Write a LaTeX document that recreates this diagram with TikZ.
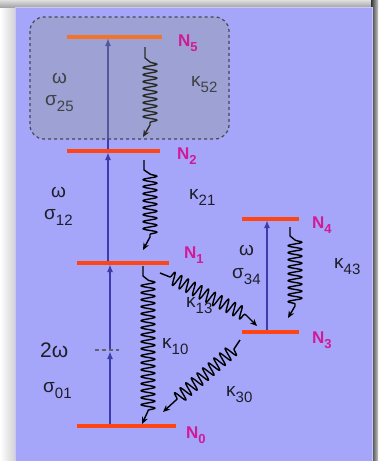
\documentclass[tikz,border=0pt]{standalone}
\usepackage{fontspec}
\setmainfont{Liberation Sans}
\usetikzlibrary{decorations.pathmorphing,arrows.meta}
\definecolor{panel}{RGB}{165,166,250}
\definecolor{panelborder}{RGB}{200,200,255}
\definecolor{levelc}{RGB}{255,69,20}
\definecolor{levelorange}{RGB}{245,115,40}
\definecolor{nmag}{RGB}{210,25,150}
\definecolor{arrblue}{RGB}{60,60,170}
\definecolor{txt}{RGB}{30,30,40}
\definecolor{boxfill}{RGB}{140,150,125}
\definecolor{boxborder}{RGB}{70,70,80}
\newcommand\myfs[1]{\fontsize{#1}{#1}\selectfont}
\newcommand\glab[2]{{\myfs{19}#1}\raisebox{-6pt}{\myfs{15}#2}}
\newcommand\nlab[1]{\textbf{\myfs{17}N\raisebox{-5pt}{\myfs{13}#1}}}
\begin{document}
\begin{tikzpicture}[x=1pt,y=-1pt,
  level/.style={draw=levelc,line width=3.5pt},
  pump/.style={draw=arrblue,line width=2pt,-{Latex[length=8pt,width=6pt]},shorten >=1pt},
  wv/.style={draw=black,line width=1.4pt,line join=round,
    decoration={snake,amplitude=7pt,segment length=7pt},
    -{Stealth[length=7pt,width=6pt]}},
  wvd/.style={draw=black,line width=1.4pt,line join=round,
    decoration={snake,amplitude=6.5pt,segment length=7.5pt},
    -{Stealth[length=7pt,width=6pt]}},
  nl/.style={anchor=base west,inner sep=0pt,text=nmag},
  gl/.style={anchor=base west,inner sep=0pt,text=txt}]
\useasboundingbox (0,0) rectangle (378,461);
% background and shadows
\fill[white] (0,0) rectangle (378,461);
\shade[left color=white,right color=gray!35] (0,7) rectangle (15,461);
\shade[top color=gray!25,bottom color=gray!70] (0,0) rectangle (378,7);
\shade[left color=gray!40!black,right color=gray!45] (371,0) rectangle (378,461);
\fill[panel] (15,7) rectangle (372,461);
\draw[panelborder,line width=1pt] (15,461) -- (15,7) -- (372,7) -- (372,461);
% level coordinates
\coordinate (N5a) at (67,37);  \coordinate (N5b) at (162,37);
\coordinate (N2a) at (67,151); \coordinate (N2b) at (160,151);
\coordinate (N1a) at (77,263); \coordinate (N1b) at (169,263);
\coordinate (N0a) at (77,426); \coordinate (N0b) at (176,426);
\coordinate (N4a) at (242,219); \coordinate (N4b) at (299,219);
\coordinate (N3a) at (242,332); \coordinate (N3b) at (299,332);
% pump arrows
\coordinate (p0) at (110,426); \coordinate (pv) at (110,350); \coordinate (p1) at (110,263);
\coordinate (q1) at (108,263); \coordinate (q2) at (108,151); \coordinate (q5) at (108,37);
\coordinate (r3) at (267,332); \coordinate (r4) at (267,219);
\coordinate (dvl) at (95,350); \coordinate (dvr) at (119,350);
\draw[pump] (p0) -- (pv);
\draw[pump] (pv) -- (p1);
\draw[txt!70,line width=1.1pt,dash pattern=on 4pt off 3pt] (dvl) -- (dvr);
\draw[pump] (q1) -- (q2);
\draw[pump] (q2) -- (q5);
\draw[pump] (r3) -- (r4);
% wavy relaxation arrows
\coordinate (k52s) at (145,47); \coordinate (k52e) at (143,137);
\draw[wv] (k52s) -- (145,58) -- (150,62) decorate{-- (150,125)} -- (k52e);
\coordinate (k21s) at (144,160); \coordinate (k21e) at (143,250);
\draw[wv] (k21s) -- (144,170) -- (150,174) decorate{-- (150,237)} -- (k21e);
\coordinate (k43s) at (290,227); \coordinate (k43e) at (288,318);
\draw[wv] (k43s) -- (290,236) -- (295,240) decorate{-- (295,306)} -- (k43e);
\coordinate (k10s) at (143,266); \coordinate (k10e) at (142,424);
\draw[wv] (k10s) -- (143,276) -- (148,280) decorate{-- (148,411)} -- (k10e);
\coordinate (k13s) at (160,273); \coordinate (k13e) at (257,326);
\draw[wvd] (k13s) -- (170,277) decorate{-- (246,315)} -- (k13e);
\coordinate (k30s) at (240,340); \coordinate (k30e) at (163,412);
\draw[wvd] (k30s) -- (234,349) decorate{-- (175,401)} -- (k30e);
% levels
\draw[level] (N2a) -- (N2b);
\draw[level] (N1a) -- (N1b);
\draw[level] (N0a) -- (N0b);
\draw[level] (N4a) -- (N4b);
\draw[level] (N3a) -- (N3b);
% labels
\node[gl] (w25) at (52,83) {\myfs{19}ω};
\node[gl] (s25) at (45,105) {\glab{σ}{25}};
\node[gl] (k52) at (191,86) {\glab{κ}{52}};
\node[gl] (w12) at (51,197) {\myfs{19}ω};
\node[gl] (s12) at (44,219) {\glab{σ}{12}};
\node[gl] (k21) at (189,199) {\glab{κ}{21}};
\node[gl] (w34) at (239,255) {\myfs{19}ω};
\node[gl] (s34) at (232,278) {\glab{σ}{34}};
\node[gl] (k43) at (334,268) {\glab{κ}{43}};
\node[gl] (k13) at (186,307) {\glab{κ}{13}};
\node[gl] (k10) at (162,348) {\glab{κ}{10}};
\node[gl] (k30) at (226,396) {\glab{κ}{30}};
\node[gl] (w01) at (40,357) {\myfs{21}2ω};
\node[gl] (s01) at (43,392) {\glab{σ}{01}};
% overlay box
\fill[boxfill,fill opacity=0.3,rounded corners=14pt] (30,17) rectangle (229,139);
\draw[boxborder,line width=1.2pt,dash pattern=on 3pt off 3pt,rounded corners=14pt] (30,17) rectangle (229,139);
\draw[level,draw=levelorange] (N5a) -- (N5b);
% level names
\node[nl] (n5) at (178,46) {\nlab{5}};
\node[nl] (n2) at (177,159) {\nlab{2}};
\node[nl] (n1) at (184,258) {\nlab{1}};
\node[nl] (n4) at (312,228) {\nlab{4}};
\node[nl] (n3) at (312,343) {\nlab{3}};
\node[nl] (n0) at (186,438) {\nlab{0}};
\end{tikzpicture}
\end{document}
